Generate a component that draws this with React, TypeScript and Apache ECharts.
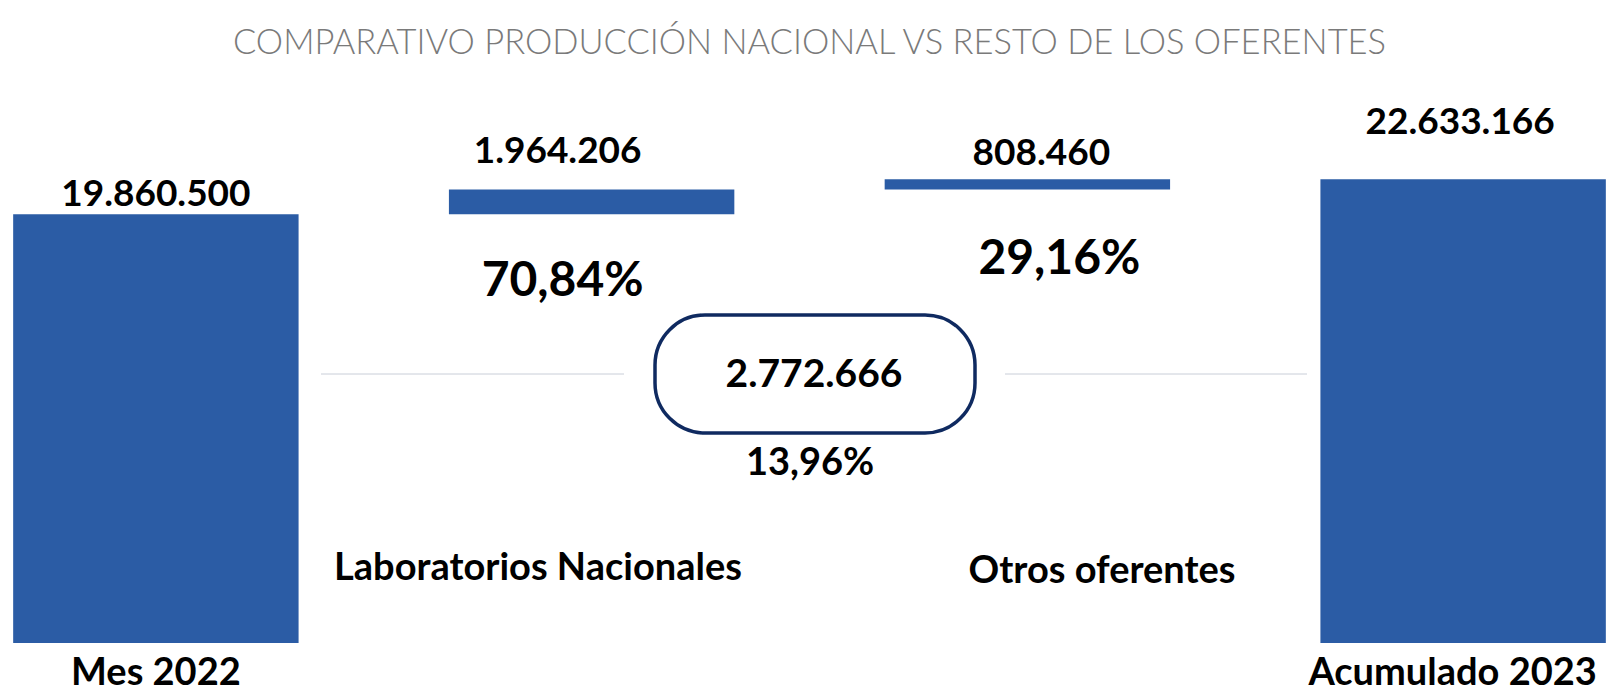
import React, { useEffect, useRef } from 'react';
import * as echarts from 'echarts';

// ---- data ----
const categories = ['Mes 2022', 'Laboratorios Nacionales', 'Otros oferentes', 'Acumulado 2023'];
const startTotal = 19860500;
const contributions = [1964206, 808460]; // Laboratorios Nacionales, Otros oferentes
const endTotal = 22633166;
const titleText = 'COMPARATIVO PRODUCCIÓN NACIONAL VS RESTO DE LOS OFERENTES';

const fmt = (n: number) => Math.round(n).toString().replace(/\B(?=(\d{3})+(?!\d))/g, '.');
const pct = (r: number) => (r * 100).toFixed(2).replace('.', ',') + '%';

const BAR = '#2B5CA5';
const FONT = 'Lato';
const Y_MIN = -14000000;
const Y_MAX = 30000000;
const OFF = 62; // container starts 62px left of the page

export default function App() {
  const ref = useRef<HTMLDivElement>(null);
  useEffect(() => {
    if (!ref.current) return;
    const chart = echarts.init(ref.current, undefined, { renderer: 'svg' });

    const change = contributions.reduce((a, b) => a + b, 0);
    // rows: [categoryIndex, low, high, shownValue, share]
    const rows: number[][] = [];
    rows.push([0, Y_MIN, startTotal, startTotal, -1]);
    let acc = startTotal;
    contributions.forEach((c, i) => {
      rows.push([i + 1, acc, acc + c, c, c / change]);
      acc += c;
    });
    rows.push([3, Y_MIN, endTotal, endTotal, -1]);

    const valueLab = [
      { dx: 0, lift: 23 },
      { dx: -34, lift: 41 },
      { dx: 14, lift: 29 },
      { dx: -3, lift: 60 },
    ];
    const shareLab = [null, { dx: -29, drop: 63 }, { dx: 32, drop: 66 }, null];

    const txt = (x: number, y: number, text: string, size: number) => ({
      type: 'text',
      x: x + OFF,
      y,
      style: {
        text, fontFamily: FONT, fontWeight: 'bold', fontSize: size, fill: '#000',
        align: 'center', verticalAlign: 'middle',
      },
    });

    const option: any = {
      animation: false,
      title: {
        text: titleText,
        left: 'center',
        top: 18,
        padding: [5, 0, 5, 4],
        textStyle: { fontFamily: FONT, fontWeight: 300, fontSize: 34.5, color: '#7a7a7a' },
      },
      grid: { left: 0, right: 0, top: 86, bottom: 50, containLabel: false },
      xAxis: {
        type: 'category',
        data: categories,
        axisLine: { show: false },
        axisTick: { show: false },
        axisLabel: {
          interval: 0,
          margin: 8,
          formatter: (v: string, i: number) => {
            if (i === 0) return `{l|${v}}`;
            if (i === 3) return `{r|${v}}`;
            return '';
          },
          rich: {
            l: { fontFamily: FONT, fontWeight: 'bold', fontSize: 38, color: '#000' },
            r: { fontFamily: FONT, fontWeight: 'bold', fontSize: 38, color: '#000', padding: [0, 21, 0, 0] },
          },
        },
      },
      yAxis: { type: 'value', min: Y_MIN, max: Y_MAX, show: false, splitLine: { show: false } },
      series: [
        {
          type: 'custom',
          data: rows,
          encode: { x: 0, y: [1, 2] },
          renderItem: (params: any, api: any) => {
            const idx = api.value(0);
            const low = api.value(1);
            const high = api.value(2);
            const shown = api.value(3);
            const share = api.value(4);
            const pLow = api.coord([idx, low]);
            const pHigh = api.coord([idx, high]);
            const bw = api.size([1, 0])[0] * 0.655;
            const children: any[] = [
              {
                type: 'rect',
                shape: { x: pLow[0] - bw / 2, y: pHigh[1], width: bw, height: pLow[1] - pHigh[1] },
                style: { fill: BAR },
              },
              {
                type: 'text',
                x: pHigh[0] + valueLab[idx].dx,
                y: pHigh[1] - valueLab[idx].lift,
                style: {
                  text: fmt(shown),
                  fontFamily: FONT, fontWeight: 'bold', fontSize: 37, fill: '#000',
                  align: 'center', verticalAlign: 'middle',
                },
              },
            ];
            const sl = shareLab[idx];
            if (sl && share >= 0) {
              children.push({
                type: 'text',
                x: pLow[0] + sl.dx,
                y: pLow[1] + sl.drop,
                style: {
                  text: pct(share),
                  fontFamily: FONT, fontWeight: 'bold', fontSize: 48, fill: '#000',
                  align: 'center', verticalAlign: 'middle',
                },
              });
            }
            return { type: 'group', children };
          },
        },
      ],
      graphic: [
        { type: 'line', shape: { x1: 321 + OFF, y1: 374, x2: 624 + OFF, y2: 374 }, style: { stroke: '#c9ced8', lineWidth: 1 } },
        { type: 'line', shape: { x1: 1005 + OFF, y1: 374, x2: 1307 + OFF, y2: 374 }, style: { stroke: '#c9ced8', lineWidth: 1 } },
        {
          type: 'rect',
          shape: { x: 655 + OFF, y: 315, width: 320, height: 118, r: 50 },
          style: { fill: '#fff', stroke: '#0f2a60', lineWidth: 3.5 },
        },
        txt(814, 372, fmt(change), 39),
        txt(810, 460, pct(change / startTotal), 38),
        txt(538, 565, categories[1], 38),
        txt(1102, 568, categories[2], 38),
      ],
    };
    chart.setOption(option);
    return () => chart.dispose();
  }, []);

  return (
    <div
      ref={ref}
      style={{ position: 'fixed', left: -OFF, top: 0, width: 1743, height: 693, background: '#fff' }}
    />
  );
}
